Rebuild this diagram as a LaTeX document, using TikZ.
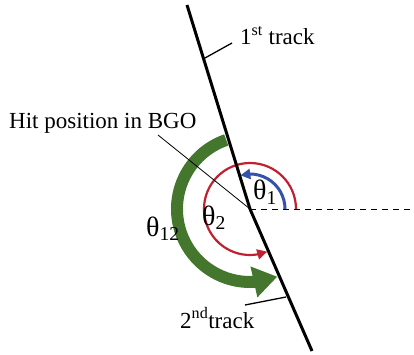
\documentclass[tikz,border=0pt]{standalone}
\usepackage{fontspec}
\setmainfont{Liberation Serif}
\usetikzlibrary{arrows.meta,bending}
\definecolor{grn}{RGB}{68,118,46}
\definecolor{myred}{RGB}{192,32,48}
\definecolor{myblue}{RGB}{52,82,170}
\tikzset{
  lbl/.style={anchor=base west, inner sep=0pt, font=\fontsize{23}{27}\selectfont},
  thl/.style={anchor=base west, inner sep=0pt, font=\fontsize{28}{32}\selectfont},
  leader/.style={line width=1.3pt},
  track/.style={line width=3pt, line join=miter},
}
\begin{document}
\begin{tikzpicture}[x=1pt,y=1pt]
\useasboundingbox (0,0) rectangle (414,-355);
\coordinate (C) at (250,-209);
\coordinate (T) at (187,-5);
\coordinate (B) at (312,-351);
\coordinate (E) at (412,-209);
% green arc
\draw[grn, line width=12pt, -{Triangle[length=24pt,width=30pt,flex]}]
  ([shift={(109:73)}]C) arc (109:292:73);
% red arc
\draw[myred, line width=2.2pt, -{Triangle[length=10pt,width=10pt,flex]}]
  ([shift={(0:46)}]C) arc (0:292:46);
% blue arc
\draw[myblue, line width=3pt, -{Triangle[length=10pt,width=10pt,flex]}]
  ([shift={(0:35)}]C) arc (0:106:35);
% dashed reference
\draw[line width=1pt, dash pattern=on 6pt off 5pt] (C) -- (E);
% hit position leader
\coordinate (H) at (158,-135);
\draw[line width=0.8pt] (H) -- (C);
% tracks
\draw[track] (T) -- (C) -- (B);
% labels
\coordinate (L1a) at (205,-58);
\coordinate (L1b) at (232,-43);
\draw[leader] (L1a) -- (L1b);
\node[lbl] (t1) at (240,-45) {1\textsuperscript{st} track};
\coordinate (L2a) at (245,-305);
\coordinate (L2b) at (286,-297);
\draw[leader] (L2a) -- (L2b);
\node[lbl] (t2) at (180,-328) {2\textsuperscript{nd}track};
\node[lbl] (hit) at (9,-128.3) {Hit position in BGO};
\node[thl] (th1) at (253,-200) {θ\textsubscript{1}};
\node[thl] (th2) at (202,-225) {θ\textsubscript{2}};
\node[thl] (th12) at (146,-236) {θ\textsubscript{12}};
\end{tikzpicture}
\end{document}
